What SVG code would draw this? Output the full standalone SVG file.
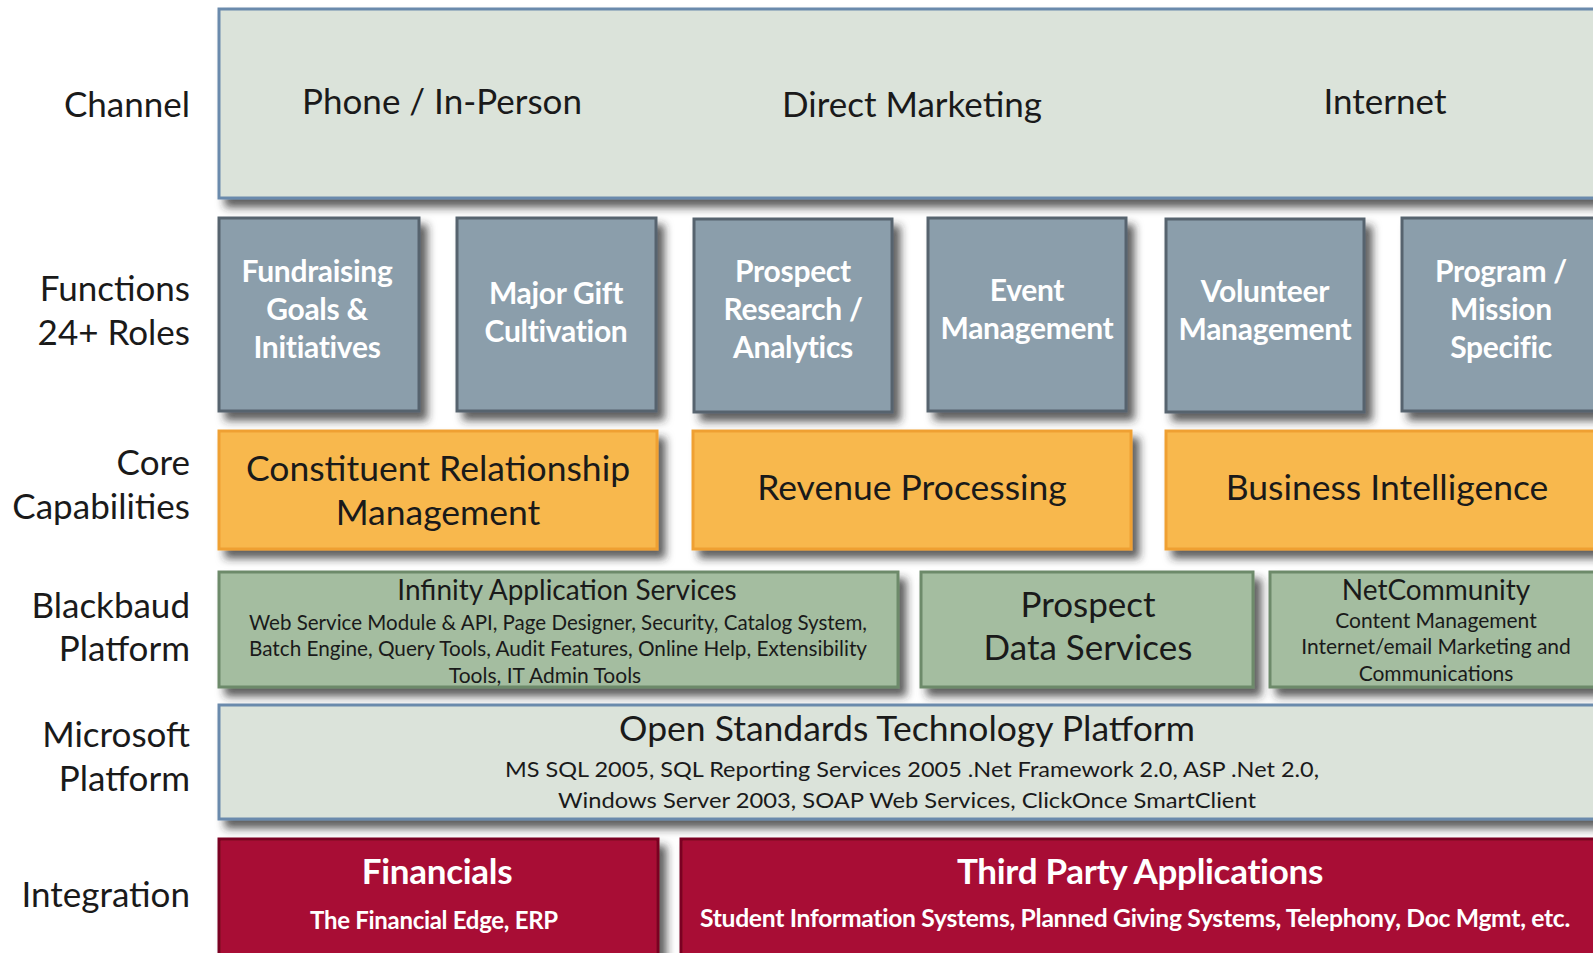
<svg xmlns="http://www.w3.org/2000/svg" width="1593" height="953" viewBox="0 0 1593 953">
<defs>
<filter id="sh" x="-10%" y="-10%" width="130%" height="140%">
<feDropShadow dx="7" dy="8" stdDeviation="4" flood-color="#2b2b2b" flood-opacity="0.75"/>
</filter>
</defs>
<style>
text{font-family:Lato,"Open Sans","Liberation Sans",sans-serif;dominant-baseline:central}
.lbl{font-size:35px;fill:#1a1a1a;text-anchor:end}
.ch{font-size:35px;fill:#1a1a1a;text-anchor:middle}
.fn{font-size:30px;font-weight:bold;fill:#ffffff;text-anchor:middle;letter-spacing:-0.3px}
.fnbox{fill:#8b9eab;stroke:#56636e;stroke-width:3}
.core{fill:#f8b84e;stroke:#efa030;stroke-width:3}
.coretx{font-size:35.5px;fill:#1a1a1a;text-anchor:middle}
.grn{fill:#a4bda0;stroke:#6d8a6a;stroke-width:3}
.gt{font-size:28px;fill:#1a1a1a;text-anchor:middle}
.gs{font-size:21px;fill:#1a1a1a;text-anchor:middle}
.lite{fill:#dbe3da;stroke:#6b8aac;stroke-width:3}
.red{fill:#a80b36;stroke:#7a0522;stroke-width:3}
.rt{font-size:35px;font-weight:bold;fill:#ffffff;text-anchor:middle;letter-spacing:-0.3px}
.rs{font-size:24px;font-weight:bold;fill:#ffffff;text-anchor:middle;letter-spacing:-0.3px}
</style>
<rect x="0" y="0" width="1593" height="953" fill="#ffffff"/>

<g id="labels">
<text class="lbl" x="190" y="103">Channel</text>
<text class="lbl" x="190" y="287">Functions</text>
<text class="lbl" x="190" y="331">24+ Roles</text>
<text class="lbl" x="190" y="461">Core</text>
<text class="lbl" x="190" y="505">Capabilities</text>
<text class="lbl" x="190" y="604">Blackbaud</text>
<text class="lbl" x="190" y="647">Platform</text>
<text class="lbl" x="190" y="733">Microsoft</text>
<text class="lbl" x="190" y="777">Platform</text>
<text class="lbl" x="190" y="893">Integration</text>
</g>

<g id="channel">
<rect class="lite" x="219" y="9" width="1390" height="189" filter="url(#sh)"/>
<text class="ch" x="442" y="100">Phone / In-Person</text>
<text class="ch" x="912" y="103">Direct Marketing</text>
<text class="ch" x="1385" y="100">Internet</text>
</g>

<g id="fn-fundraising">
<rect class="fnbox" x="219" y="218" width="200" height="193" filter="url(#sh)"/>
<text class="fn" x="317" y="270">Fundraising</text>
<text class="fn" x="317" y="308">Goals &amp;</text>
<text class="fn" x="317" y="346">Initiatives</text>
</g>
<g id="fn-majorgift">
<rect class="fnbox" x="457" y="218" width="199" height="193" filter="url(#sh)"/>
<text class="fn" x="556" y="292">Major Gift</text>
<text class="fn" x="556" y="330">Cultivation</text>
</g>
<g id="fn-prospect">
<rect class="fnbox" x="694" y="219" width="198" height="193" filter="url(#sh)"/>
<text class="fn" x="793" y="270">Prospect</text>
<text class="fn" x="793" y="308">Research /</text>
<text class="fn" x="793" y="346">Analytics</text>
</g>
<g id="fn-event">
<rect class="fnbox" x="928" y="218" width="198" height="193" filter="url(#sh)"/>
<text class="fn" x="1027" y="289">Event</text>
<text class="fn" x="1027" y="327">Management</text>
</g>
<g id="fn-volunteer">
<rect class="fnbox" x="1166" y="219" width="198" height="193" filter="url(#sh)"/>
<text class="fn" x="1265" y="290">Volunteer</text>
<text class="fn" x="1265" y="328">Management</text>
</g>
<g id="fn-program">
<rect class="fnbox" x="1402" y="218" width="200" height="193" filter="url(#sh)"/>
<text class="fn" x="1501" y="270">Program /</text>
<text class="fn" x="1501" y="308">Mission</text>
<text class="fn" x="1501" y="346">Specific</text>
</g>

<g id="core-crm">
<rect class="core" x="219" y="431" width="438" height="118" filter="url(#sh)"/>
<text class="coretx" x="438" y="467">Constituent Relationship</text>
<text class="coretx" x="438" y="511">Management</text>
</g>
<g id="core-revenue">
<rect class="core" x="693" y="431" width="438" height="118" filter="url(#sh)"/>
<text class="coretx" x="912" y="486">Revenue Processing</text>
</g>
<g id="core-bi">
<rect class="core" x="1166" y="431" width="440" height="118" filter="url(#sh)"/>
<text class="coretx" x="1387" y="486">Business Intelligence</text>
</g>

<g id="bb-infinity">
<rect class="grn" x="219" y="572" width="679" height="115" filter="url(#sh)"/>
<text class="gt" x="567" y="589">Infinity Application Services</text>
<text class="gs" x="558" y="621" textLength="618" lengthAdjust="spacingAndGlyphs">Web Service Module &amp; API, Page Designer, Security, Catalog System,</text>
<text class="gs" x="558" y="647" textLength="618" lengthAdjust="spacingAndGlyphs">Batch Engine, Query Tools, Audit Features, Online Help, Extensibility</text>
<text class="gs" x="545" y="674">Tools, IT Admin Tools</text>
</g>
<g id="bb-prospect">
<rect class="grn" x="921" y="572" width="332" height="115" filter="url(#sh)"/>
<text class="ch" x="1088" y="603">Prospect</text>
<text class="ch" x="1088" y="646">Data Services</text>
</g>
<g id="bb-netcommunity">
<rect class="grn" x="1270" y="572" width="340" height="115" filter="url(#sh)"/>
<text class="gt" x="1436" y="589">NetCommunity</text>
<text class="gs" x="1436" y="619">Content Management</text>
<text class="gs" x="1436" y="645">Internet/email Marketing and</text>
<text class="gs" x="1436" y="672">Communications</text>
</g>

<g id="microsoft">
<rect class="lite" x="219" y="705" width="1390" height="114" filter="url(#sh)"/>
<text class="ch" x="907" y="727" style="font-size:35.5px">Open Standards Technology Platform</text>
<text class="gs" x="912" y="768" style="font-size:22px" textLength="814" lengthAdjust="spacingAndGlyphs">MS SQL 2005, SQL Reporting Services 2005 .Net Framework 2.0, ASP .Net 2.0,</text>
<text class="gs" x="907" y="799" style="font-size:22px" textLength="698" lengthAdjust="spacingAndGlyphs">Windows Server 2003, SOAP Web Services, ClickOnce SmartClient</text>
</g>

<g id="int-financials">
<rect class="red" x="219" y="839" width="439" height="125" filter="url(#sh)"/>
<text class="rt" x="437" y="870">Financials</text>
<text class="rs" x="434" y="919">The Financial Edge, ERP</text>
</g>
<g id="int-thirdparty">
<rect class="red" x="681" y="839" width="930" height="125" filter="url(#sh)"/>
<text class="rt" x="1140" y="870">Third Party Applications</text>
<text class="rs" x="1135" y="917" textLength="870" lengthAdjust="spacingAndGlyphs">Student Information Systems, Planned Giving Systems, Telephony, Doc Mgmt, etc.</text>
</g>
</svg>
